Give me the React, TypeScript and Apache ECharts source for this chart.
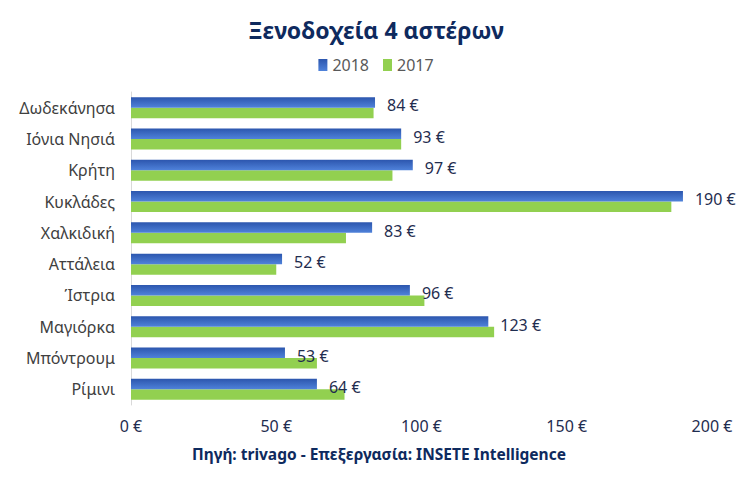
import React, { useEffect, useRef } from "react";
import * as echarts from "echarts";

const categories = ["Δωδεκάνησα", "Ιόνια Νησιά", "Κρήτη", "Κυκλάδες", "Χαλκιδική", "Αττάλεια", "Ίστρια", "Μαγιόρκα", "Μπόντρουμ", "Ρίμινι"];
const values2018 = [84, 93, 97, 190, 83, 52, 96, 123, 53, 64];
const values2017 = [83.5, 93, 90, 186, 74, 50, 101, 125, 64, 73.5];
const xTicks = [0, 50, 100, 150, 200];

const FONT = "'Noto Sans', 'Open Sans', sans-serif";

export default function App() {
  const ref = useRef<HTMLDivElement>(null);
  useEffect(() => {
    const chart = echarts.init(ref.current!, null, { renderer: "svg" });
    const blue = new echarts.graphic.LinearGradient(0, 0, 0, 1, [
      { offset: 0, color: "#2C56AE" },
      { offset: 1, color: "#4F82DA" },
    ]);
    chart.setOption({
      animation: false,
      backgroundColor: "#fff",
      title: {
        text: "Ξενοδοχεία 4 αστέρων",
        left: "center",
        top: 13,
        textStyle: { fontFamily: FONT, fontSize: 23, fontWeight: "bold", color: "#0E2A5E" },
      },
      legend: {
        top: 52,
        left: "center",
        itemWidth: 9,
        itemHeight: 12,
        itemGap: 14,
        icon: "rect",
        textStyle: { fontFamily: FONT, fontSize: 16, color: "#595959" },
        data: ["2018", "2017"],
      },
      grid: { left: 131, right: 40, top: 92, height: 313, containLabel: false },
      xAxis: {
        type: "value",
        min: 0,
        max: 200,
        interval: 50,
        axisLine: { show: false },
        axisTick: { show: false },
        splitLine: { show: false },
        axisLabel: {
          fontFamily: FONT,
          fontSize: 16,
          color: "#1F2D4F",
          margin: 13,
          formatter: (v: number) => (xTicks.includes(v) ? `${v} €` : ""),
        },
      },
      yAxis: {
        type: "category",
        inverse: true,
        data: categories,
        axisLine: { show: true, lineStyle: { color: "#D9D9D9", width: 1 } },
        axisTick: { show: false },
        axisLabel: { fontFamily: FONT, fontSize: 16, color: "#404040", margin: 16 },
      },
      series: [
        {
          name: "2018",
          type: "bar",
          data: values2018,
          itemStyle: { color: blue },
          barGap: "0%",
          barCategoryGap: "33%",
          label: {
            show: true,
            position: "right",
            distance: 12,
            offset: [0, 3],
            formatter: (p: any) => `${p.value} €`,
            fontFamily: FONT,
            fontSize: 16,
            color: "#1F2D4F",
          },
        },
        {
          name: "2017",
          type: "bar",
          data: values2017,
          itemStyle: { color: "#92D050" },
          barGap: "0%",
          barCategoryGap: "33%",
          z: 1,
        },
      ],
      graphic: [
        {
          type: "text",
          x: 379,
          y: 454,
          style: {
            text: "Πηγή: trivago - Επεξεργασία: INSETE Intelligence",
            font: `bold 15.5px ${FONT}`,
            fill: "#0E2A5E",
            align: "center",
            verticalAlign: "middle",
          },
        },
      ],
    });
    return () => chart.dispose();
  }, []);
  return <div ref={ref} style={{ position: "fixed", left: 0, top: 0, width: 752, height: 489 }} />;
}
